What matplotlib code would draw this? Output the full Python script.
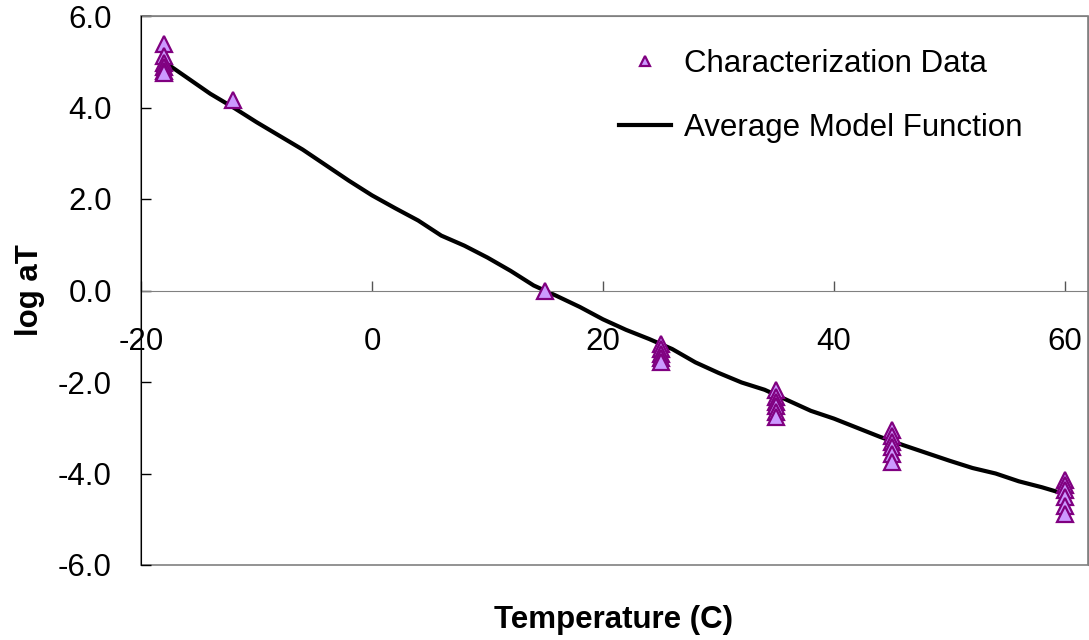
import matplotlib
matplotlib.use("Agg")
import matplotlib.pyplot as plt
from matplotlib.patches import Rectangle

plt.rcParams['font.family'] = ['Liberation Sans', 'DejaVu Sans']
plt.rcParams['axes.unicode_minus'] = False

# characterization data (temperature C, log aT)
temp_data = [-18, -18, -18, -18, -18, -18,
             -12,
             15,
             25, 25, 25, 25, 25,
             35, 35, 35, 35, 35, 35,
             45, 45, 45, 45, 45, 45,
             60, 60, 60, 60, 60, 60]
logat_data = [5.38, 5.12, 4.98, 4.88, 4.80, 4.76,
              4.16,
              0.0,
              -1.16, -1.27, -1.38, -1.47, -1.56,
              -2.18, -2.33, -2.44, -2.52, -2.65, -2.76,
              -3.06, -3.17, -3.31, -3.42, -3.57, -3.75,
              -4.15, -4.26, -4.37, -4.51, -4.70, -4.88]

# average model function
temp_model = [-18, -16, -14, -12, -10, -8, -6, -4, -2, 0, 2, 4, 6, 8, 10,
              12, 14, 16, 18, 20, 22, 24, 26, 28, 30, 32, 34, 36, 38, 40,
              42, 44, 46, 48, 50, 52, 54, 56, 58, 60]
logat_model = [5.00, 4.65, 4.30, 4.00, 3.68, 3.38, 3.08, 2.74, 2.40, 2.08,
               1.80, 1.53, 1.20, 0.98, 0.72, 0.43, 0.11, -0.12, -0.36, -0.63,
               -0.86, -1.06, -1.28, -1.57, -1.80, -2.01, -2.17, -2.40, -2.63, -2.80,
               -3.00, -3.20, -3.38, -3.55, -3.72, -3.88, -4.00, -4.17, -4.30, -4.45]

x_ticks = [-20, 0, 20, 40, 60]
y_ticks = [-6, -4, -2, 0, 2, 4, 6]

fs = 22.5

fig = plt.figure(figsize=(10.89, 6.40), dpi=100)
ax = fig.add_axes([141 / 1089, 75 / 640, 947 / 1089, 549 / 640])

ax.plot(temp_data, logat_data, linestyle='none', marker='^', markersize=11,
        markerfacecolor='#CC99FF', markeredgecolor='#800080', markeredgewidth=1.6,
        label='Characterization Data', zorder=3)
ax.plot(temp_model, logat_model, color='black', linewidth=3.0,
        label='Average Model Function', zorder=2)

ax.set_xlim(-20, 62)
ax.set_ylim(-6, 6)
ax.set_xticks(x_ticks)
ax.set_yticks(y_ticks)
ax.set_xticklabels([str(v) for v in x_ticks])
ax.set_yticklabels([f'{v:.1f}' for v in y_ticks])

# x axis crosses at y = 0
ax.spines['bottom'].set_position(('data', 0))
ax.spines['bottom'].set_color('#808080')
ax.spines['top'].set_color('#808080')
ax.spines['right'].set_color('#808080')
ax.spines['left'].set_color('black')
ax.spines['left'].set_zorder(5)
ax.add_patch(Rectangle((0, 0), 1, 1, transform=ax.transAxes, fill=False,
                       edgecolor='#808080', linewidth=1.2, clip_on=False, zorder=0))

ax.tick_params(axis='x', direction='in', length=7, width=1, color='#555555',
               pad=26, labelsize=fs)
ax.tick_params(axis='y', direction='in', length=7, width=1, color='black',
               pad=21, labelsize=fs)

fig.text(30 / 1089, 1 - 290 / 640, 'log aT', rotation=90, ha='center', va='center',
         fontsize=fs, fontweight='bold')
fig.text(614 / 1089, 1 - 620 / 640, 'Temperature (C)', ha='center', va='center',
         fontsize=fs, fontweight='bold')

ax.legend(loc='upper left', bbox_to_anchor=(619 / 1089, 1 - 49 / 640),
          bbox_transform=fig.transFigure, frameon=False, fontsize=fs,
          handlelength=1.65, handletextpad=0.42, labelspacing=1.1,
          borderpad=0, borderaxespad=0, markerscale=0.7)

fig.savefig('out.png', dpi=100)
